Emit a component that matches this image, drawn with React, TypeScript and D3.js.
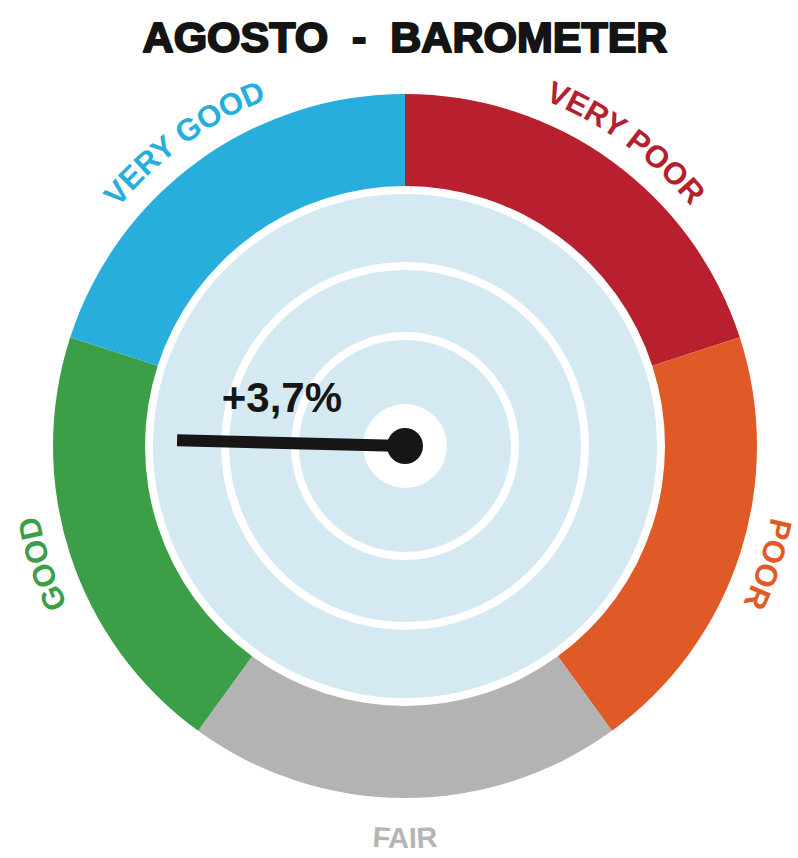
import * as d3 from "d3";

const title = "AGOSTO  -  BAROMETER";
const segmentLabels = ["VERY POOR", "POOR", "FAIR", "GOOD", "VERY GOOD"];
const segmentWeights = [1, 1, 1, 1, 1];
const segmentColors = ["#b8202f", "#e05a27", "#b3b3b3", "#3d9e48", "#27aedd"];
const labelColors = ["#b3202e", "#e05a27", "#b5b5b5", "#3d9e48", "#27aedd"];
// needle position on the dial, counted in segments clockwise from the top
const needleReading = 3.77;
const readingLabel = "+3,7%";
const ringRadii = [110, 180];

const width = 798;
const height = 858;
const cx = 405;
const cy = 446;

const outerR = 352;
const innerR = 260;
const diskR = 252;
const labelR = 373;

export default function App() {
  const pie = d3
    .pie<number>()
    .value((d) => d)
    .sort(null);
  const slices = pie(segmentWeights);

  const arc = d3
    .arc<d3.PieArcDatum<number>>()
    .innerRadius(innerR)
    .outerRadius(outerR);

  const angle = d3
    .scaleLinear()
    .domain([0, segmentWeights.length])
    .range([0, 2 * Math.PI]);

  const pt = (a: number, r: number) => [r * Math.sin(a), -r * Math.cos(a)];

  // text paths for the curved labels
  const labelPath = (a0: number, a1: number, r: number, flip: boolean) => {
    const [x0, y0] = pt(a0, r);
    const [x1, y1] = pt(a1, r);
    if (flip) return `M${x1},${y1} A${r},${r} 0 0 0 ${x0},${y0}`;
    return `M${x0},${y0} A${r},${r} 0 0 1 ${x1},${y1}`;
  };

  const na = angle(needleReading);
  const needleLen = 228;
  const [nx, ny] = pt(na, needleLen);
  const [tx, ty] = pt(na, needleLen * 0.54);

  return (
    <svg
      width={width}
      height={height}
      style={{ position: "absolute", left: 0, top: 0, background: "#fff" }}
      fontFamily="'Liberation Sans', Arial, sans-serif"
    >
      <text
        x={cx}
        y={52}
        textAnchor="middle"
        fontSize={43}
        fontWeight="bold"
        fill="#141414"
        stroke="#141414"
        strokeWidth={2}
        strokeLinejoin="round"
        style={{ whiteSpace: "pre" }}
      >
        {title}
      </text>

      <g transform={`translate(${cx},${cy})`}>
        {slices.map((s, i) => (
          <path key={i} d={arc(s) as string} fill={segmentColors[i]} />
        ))}

        <circle r={diskR} fill="#d4e9f2" />
        {ringRadii.map((r, i) => (
          <circle key={i} r={r} fill="none" stroke="#fff" strokeWidth={8} />
        ))}
        <circle r={42} fill="#fff" />

        {slices.map((s, i) => {
          const mid = (s.startAngle + s.endAngle) / 2;
          const flip = mid > Math.PI * 0.75 && mid < Math.PI * 1.25;
          return (
            <g key={"l" + i}>
              <path
                id={`lbl-${i}`}
                d={labelPath(s.startAngle, s.endAngle, flip ? 402 : labelR, flip)}
                fill="none"
              />
              <text
                fontSize={flip ? 29 : 31}
                fontWeight="bold"
                fill={labelColors[i]}
              >
                <textPath href={`#lbl-${i}`} startOffset="50%" textAnchor="middle">
                  {segmentLabels[i]}
                </textPath>
              </text>
            </g>
          );
        })}

        <line
          x1={0}
          y1={0}
          x2={nx}
          y2={ny}
          stroke="#161616"
          strokeWidth={12}
        />
        <circle r={18} fill="#161616" />
        <text
          x={tx}
          y={ty - 31}
          textAnchor="middle"
          fontSize={42}
          fontWeight="bold"
          fill="#161616"
        >
          {readingLabel}
        </text>
      </g>
    </svg>
  );
}
